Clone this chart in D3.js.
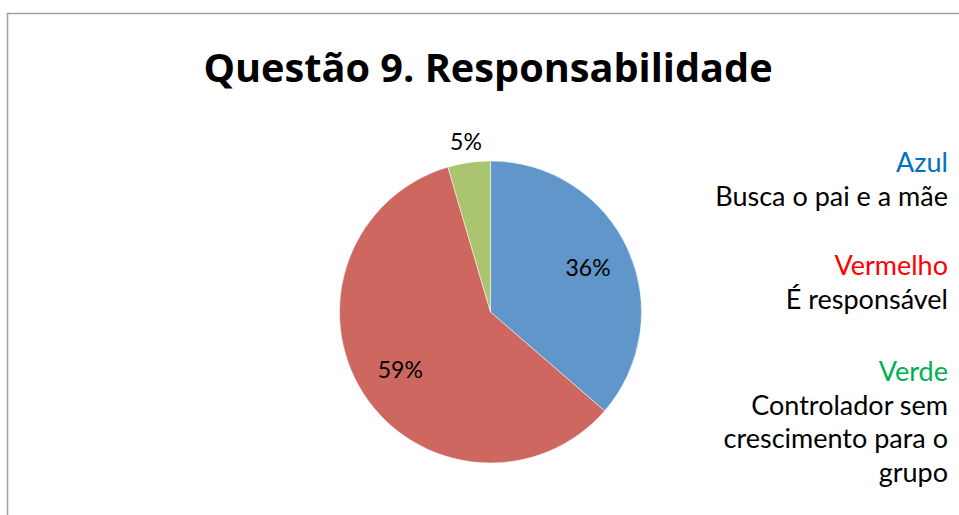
<!DOCTYPE html>
<html>
<head>
<meta charset="utf-8">
<script src="https://cdn.jsdelivr.net/npm/d3@7"></script>
<style>
  body { margin: 0; background: #fff; }
  text { font-family: Lato, "Open Sans", sans-serif; }
</style>
</head>
<body>
<div id="chart"></div>
<script>
// data
var categories = ["Azul", "Vermelho", "Verde"];
var values = [8, 13, 1];
var pctLabels = ["36%", "59%", "5%"];
var sliceColors = ["#6096c9", "#cd6760", "#abc46f"];
var legendColors = ["#0070c0", "#ff0000", "#00b050"];
var legendLines = [
  ["Busca o pai e a mãe"],
  ["É responsável"],
  ["Controlador sem", "crescimento para o", "grupo"]
];

var width = 959, height = 515;

var svg = d3.select("#chart").append("svg")
    .attr("width", width)
    .attr("height", height);

svg.append("rect")
    .attr("x", 7.5).attr("y", 13.5)
    .attr("width", 960).attr("height", 520)
    .attr("fill", "#fff")
    .attr("stroke", "#a0a0a0")
    .attr("stroke-width", 1.5);

var title = svg.append("text")
    .attr("x", 488).attr("y", 82)
    .attr("text-anchor", "middle")
    .style("font-family", "'Open Sans', sans-serif")
    .style("font-size", "36px")
    .style("font-weight", "bold")
    .text("Questão 9. Responsabilidade");

// fit title to the width it takes in the original (~570px)
var tw = title.node().getComputedTextLength();
if (tw > 0) title.style("font-size", (36 * 570 / tw).toFixed(1) + "px");

var cx = 490.5, cy = 312, r = 151;

var pie = d3.pie().sort(null).value(function(d) { return d; });
var arc = d3.arc().innerRadius(0).outerRadius(r);
var arcs = pie(values);

var g = svg.append("g").attr("transform", "translate(" + cx + "," + cy + ")");

g.selectAll("path.slice")
    .data(arcs)
    .enter().append("path")
    .attr("class", "slice")
    .attr("d", arc)
    .attr("fill", function(d, i) { return sliceColors[i]; })
    .attr("stroke", "#fff")
    .attr("stroke-width", 0.5);

// inside labels for big slices, outside for the small one
var inArc = d3.arc().innerRadius(r * 0.71).outerRadius(r * 0.71);
var outArc = d3.arc().innerRadius(r * 1.14).outerRadius(r * 1.14);

g.selectAll("text.pct")
    .data(arcs)
    .enter().append("text")
    .attr("class", "pct")
    .attr("transform", function(d, i) {
      var p = (i === 2 ? outArc : inArc).centroid(d);
      return "translate(" + p[0] + "," + p[1] + ")";
    })
    .attr("text-anchor", "middle")
    .attr("dy", "0.36em")
    .style("font-size", "23px")
    .text(function(d, i) { return pctLabels[i]; });

// legend text block on the right
var lx = 948;
var legendY = [172, 275, 381];
var lg = svg.append("g");
categories.forEach(function(c, i) {
  lg.append("text")
      .attr("x", lx).attr("y", legendY[i])
      .attr("text-anchor", "end")
      .style("font-size", "27px")
      .attr("fill", legendColors[i])
      .text(c);
  legendLines[i].forEach(function(line, j) {
    lg.append("text")
        .attr("x", lx).attr("y", legendY[i] + 33.5 * (j + 1))
        .attr("text-anchor", "end")
        .style("font-size", "27px")
        .attr("fill", "#000")
        .text(line);
  });
});
</script>
</body>
</html>
